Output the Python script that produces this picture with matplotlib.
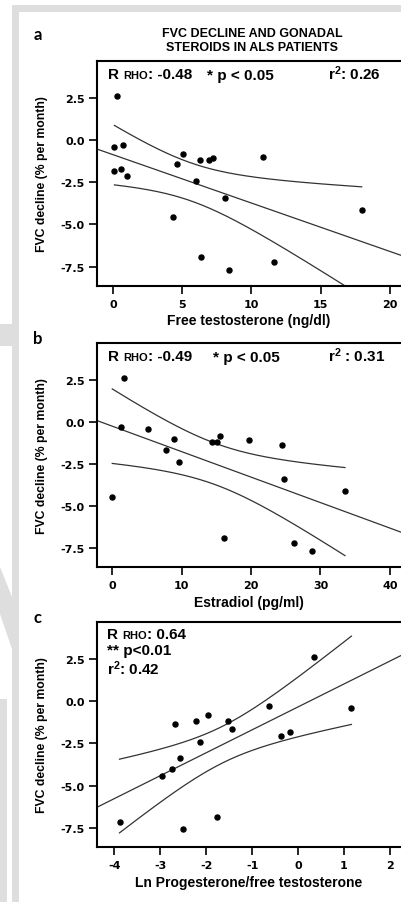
import numpy as np
import matplotlib
matplotlib.use('Agg')
import matplotlib.pyplot as plt
from matplotlib.offsetbox import TextArea, HPacker, VPacker, AnchoredOffsetbox
from matplotlib.patches import Polygon

plt.rcParams['font.family'] = ['Liberation Sans', 'DejaVu Sans']
plt.rcParams['font.weight'] = 'bold'
plt.rcParams['axes.labelweight'] = 'bold'
plt.rcParams['mathtext.default'] = 'regular'

# --- data ---
# a: free testosterone vs FVC decline
free_testo = [0.27, 0.10, 0.75, 0.10, 0.55, 0.99, 5.05, 4.62, 6.30, 6.93,
              7.20, 10.80, 5.97, 8.10, 17.96, 4.36, 6.35, 8.35, 11.63]
fvc_a = [2.60, -0.43, -0.30, -1.86, -1.73, -2.12, -0.83, -1.41, -1.21, -1.21,
         -1.07, -1.03, -2.44, -3.45, -4.13, -4.54, -6.95, -7.69, -7.23]

# b: estradiol vs FVC decline
estradiol = [1.73, 1.21, 5.19, 7.69, 8.89, 9.61, 14.37, 15.04, 15.56, 19.74,
             24.45, 24.74, 33.53, 0.00, 16.05, 26.18, 28.82]
fvc_b = [2.60, -0.30, -0.42, -1.70, -1.03, -2.42, -1.19, -1.19, -0.84, -1.07,
         -1.39, -3.41, -4.10, -4.50, -6.91, -7.21, -7.67]

# c: ln(progesterone / free testosterone) vs FVC decline
ln_prog_testo = [0.35, -0.64, 1.16, -2.68, -2.23, -1.97, -1.53, -1.43, -0.38,
                 -0.18, -2.14, -2.57, -2.74, -2.96, -3.89, -2.50, -1.77]
fvc_c = [2.59, -0.28, -0.39, -1.37, -1.18, -0.81, -1.18, -1.67, -2.08,
         -1.85, -2.41, -3.35, -4.05, -4.44, -7.14, -7.59, -6.84]

xlabels = ['Free testosterone (ng/dl)', 'Estradiol (pg/ml)',
           'Ln Progesterone/free testosterone']
xticks = [[0, 5, 10, 15, 20], [0, 10, 20, 30, 40], [-4, -3, -2, -1, 0, 1, 2]]
yticks = [-7.5, -5.0, -2.5, 0.0, 2.5]
rho_vals = ['-0.48', '-0.49', '0.64']
p_texts = ['* p < 0.05', '* p < 0.05', '** p<0.01']
r2_texts = ['r$^2$: 0.26', 'r$^{2}$ : 0.31', 'r$^2$: 0.42']
letters = ['a', 'b', 'c']

# t(0.975, n-2) for the 95% confidence band of the mean
t_crit = {15: 2.131, 17: 2.110}

W, H = 401, 903
fig = plt.figure(figsize=(W / 100, H / 100), dpi=100)

def fx(px): return px / W
def fy(py): return 1 - py / H

# grey page frame / watermark bits
grey = '#dedede'
for poly in [[(12, 6), (W, 6), (W, 13), (19, 13), (19, H), (12, H)],
             [(0, 325), (12, 325), (12, 347), (0, 347)],
             [(0, 568), (12, 598), (12, 650), (0, 615)],
             [(0, 700), (7, 700), (7, H), (0, H)]]:
    fig.add_artist(Polygon([(fx(x), fy(y)) for x, y in poly], closed=True,
                           transform=fig.transFigure, fc=grey, ec='none', zorder=0))

# axes boxes in pixels: (top, bottom), plus x limits
boxes = [(62, 287), (344, 568.3), (622.7, 848.3)]
xlims = [(-1.16, 20.8), (-2.2, 41.6), (-4.38, 2.24)]
datasets = [(free_testo, fvc_a), (estradiol, fvc_b), (ln_prog_testo, fvc_c)]
p_x = [0.362, 0.382]

big = dict(size=11, weight='bold', family='Liberation Sans')
small = dict(size=8, weight='bold', family='Liberation Sans')

def rho_box(val):
    rest = HPacker(children=[TextArea('RHO', textprops=small),
                             TextArea(': ' + val, textprops=big)],
                   align='baseline', pad=0, sep=0)
    return HPacker(children=[TextArea('R', textprops=big), rest],
                   align='baseline', pad=0, sep=3)

for i, ((top, bot), (x, y)) in enumerate(zip(boxes, datasets)):
    ax = fig.add_axes([fx(97), fy(bot), 1 - fx(97), (bot - top) / H])
    x = np.array(x); y = np.array(y)
    ax.set_xlim(*xlims[i])
    ax.set_ylim(-8.65, 4.68)

    # least squares fit + 95% CI of the mean
    n = len(x)
    b1, b0 = np.polyfit(x, y, 1)
    resid = y - (b0 + b1 * x)
    s = np.sqrt(np.sum(resid ** 2) / (n - 2))
    sxx = np.sum((x - x.mean()) ** 2)
    xf = np.linspace(*xlims[i], 200)
    ax.plot(xf, b0 + b1 * xf, color='#333333', lw=0.9)
    xc = np.linspace(x.min(), x.max(), 200)
    half = t_crit[n - 2] * s * np.sqrt(1 / n + (xc - x.mean()) ** 2 / sxx)
    ax.plot(xc, b0 + b1 * xc + half, color='#333333', lw=0.9)
    ax.plot(xc, b0 + b1 * xc - half, color='#333333', lw=0.9)

    ax.scatter(x, y, s=13, color='black', zorder=3, clip_on=False)

    for sp in ['left', 'bottom', 'top']:
        ax.spines[sp].set_linewidth(1.5)
    ax.spines['right'].set_visible(False)
    ax.set_xticks(xticks[i])
    ax.set_xticklabels([str(v) for v in xticks[i]], family='DejaVu Sans')
    ax.set_yticks(yticks)
    ax.set_yticklabels(['%.1f' % v for v in yticks], family='DejaVu Sans')
    ax.tick_params(direction='out', length=6, width=1.2, labelsize=8, pad=3)
    ax.set_xlabel(xlabels[i], fontsize=10, fontweight='bold')
    ax.xaxis.set_label_coords(0.5, -0.122)
    ax.set_ylabel('FVC decline (% per month)', fontsize=8.8, fontweight='bold')
    ax.yaxis.set_label_coords(-0.161, 0.5)

    rho = rho_box(rho_vals[i])
    if i < 2:
        ab = AnchoredOffsetbox(loc='upper left', child=rho, pad=0, borderpad=0, frameon=False,
                               bbox_to_anchor=(0.035, 0.975), bbox_transform=ax.transAxes)
        ax.add_artist(ab)
        ax.text(p_x[i], 0.92, p_texts[i], transform=ax.transAxes, va='baseline', **big)
        ax.text(0.76, 0.92, r2_texts[i], transform=ax.transAxes, va='baseline', **big)
    else:
        col = VPacker(children=[rho, TextArea(p_texts[i], textprops=big),
                                TextArea(r2_texts[i], textprops=big)],
                      align='left', pad=0, sep=1)
        ab = AnchoredOffsetbox(loc='upper left', child=col, pad=0, borderpad=0, frameon=False,
                               bbox_to_anchor=(0.033, 0.975), bbox_transform=ax.transAxes)
        ax.add_artist(ab)

    fig.text(fx(38), fy(top - 27 if i == 0 else top - 5), letters[i],
             family='Lato', fontsize=12, weight='bold', ha='center', va='center')

fig.text(fx(252), fy(41), 'FVC DECLINE AND GONADAL\nSTEROIDS IN ALS PATIENTS',
         ha='center', va='center', fontsize=9, linespacing=1.2)

fig.savefig('out.png', dpi=100)
